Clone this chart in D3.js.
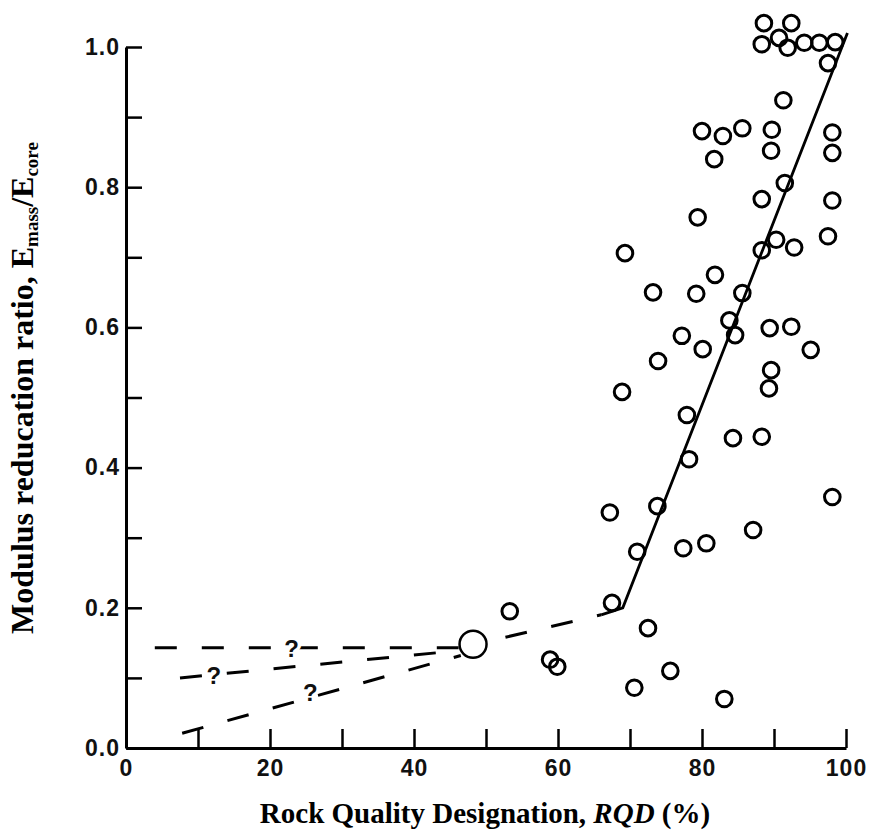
<!DOCTYPE html>
<html>
<head>
<meta charset="utf-8">
<script src="https://cdn.jsdelivr.net/npm/d3@7"></script>
<style>
  body { margin: 0; background: #fff; }
  .tick-lab { font-family: "Liberation Sans", Arial, sans-serif; font-weight: bold; font-size: 23px; }
  .title { font-family: "Liberation Serif", "Times New Roman", serif; font-weight: bold; }
</style>
</head>
<body>
<svg id="chart" width="873" height="839"></svg>
<script>
// measured data (RQD %, Emass/Ecore)
const rqd = [53.3, 58.9, 59.9,
  67.2, 67.5, 71.0, 72.5, 70.6, 73.8, 75.6, 77.4, 80.6, 83.1, 87.1, 98.1,
  78.2, 77.9, 84.3, 88.3, 89.3, 89.6, 68.9, 73.9, 77.2, 80.1, 83.8, 84.6, 89.4, 92.4, 95.1,
  73.2, 79.2, 81.8, 85.6, 69.3,
  88.3, 90.3, 92.8, 97.5, 79.4, 88.3, 98.1, 91.5,
  81.7, 89.6, 98.1, 80.0, 82.9, 85.6, 89.7, 98.1, 91.3,
  97.5, 88.3, 90.7, 91.9, 94.2, 96.3, 98.5, 88.6, 92.4];
const ratio = [0.195, 0.126, 0.116,
  0.336, 0.207, 0.280, 0.171, 0.086, 0.345, 0.110, 0.285, 0.292, 0.070, 0.311, 0.358,
  0.412, 0.475, 0.442, 0.444, 0.513, 0.539, 0.508, 0.552, 0.588, 0.569, 0.610, 0.589, 0.599, 0.601, 0.568,
  0.650, 0.648, 0.675, 0.649, 0.706,
  0.710, 0.725, 0.714, 0.730, 0.757, 0.783, 0.781, 0.806,
  0.840, 0.852, 0.849, 0.880, 0.873, 0.884, 0.882, 0.878, 0.924,
  0.977, 1.004, 1.013, 0.999, 1.006, 1.006, 1.007, 1.034, 1.034];

// the single large circle
const bigPoint = [48.2, 0.148];

// trend line (solid) and the dashed guesses
const trendLine = [[66.0, 0.190], [69.0, 0.200], [100.2, 1.020]];
const dashUpper = [[4.0, 0.143], [46.2, 0.143]];
const dashMiddle = [[7.5, 0.100], [46.3, 0.139]];
const dashLower = [[7.8, 0.021], [46.5, 0.132]];
const dashLink = [[52.7, 0.158], [66.0, 0.190]];
const qMarks = [[23.0, 0.143], [12.2, 0.104], [25.6, 0.080]];

const xTicks = d3.range(0, 101, 10);
const yTicks = d3.range(0, 1.01, 0.1);

const svg = d3.select("#chart");
const margin = { top: 47, right: 27, bottom: 91, left: 126 };
const width = +svg.attr("width") - margin.left - margin.right;
const height = +svg.attr("height") - margin.top - margin.bottom;

const x = d3.scaleLinear().domain([0, 100]).range([margin.left, margin.left + width]);
const y = d3.scaleLinear().domain([0, 1]).range([margin.top + height, margin.top]);

// axes
const xAxis = svg.append("g")
  .attr("transform", `translate(0, ${y(0)})`)
  .call(d3.axisBottom(x).tickValues(xTicks).tickSizeInner(-19).tickSizeOuter(0).tickPadding(12)
    .tickFormat((d) => (d % 20 === 0 ? d : "")));

const yAxis = svg.append("g")
  .attr("transform", `translate(${x(0)}, 0)`)
  .call(d3.axisLeft(y).tickValues(yTicks).tickSizeInner(-16).tickSizeOuter(0).tickPadding(6)
    .tickFormat((d) => (Math.round(d * 10) % 2 === 0 ? d3.format(".1f")(d) : "")));

[xAxis, yAxis].forEach((g) => {
  g.select(".domain").attr("stroke", "#000").attr("stroke-width", 3);
  g.selectAll(".tick line").attr("stroke", "#000").attr("stroke-width", 2.5);
  g.selectAll(".tick text").attr("class", "tick-lab").attr("fill", "#111")
    .attr("font-size", null).attr("font-family", null)
    .style("letter-spacing", "1px");
});

// lines
const line = d3.line().x((d) => x(d[0])).y((d) => y(d[1]));

[dashUpper, dashMiddle, dashLower, dashLink].forEach((pts) => {
  svg.append("path")
    .datum(pts)
    .attr("d", line)
    .attr("fill", "none")
    .attr("stroke", "#000")
    .attr("stroke-width", 3)
    .attr("stroke-dasharray", "22 25");
});

svg.append("path")
  .datum(trendLine)
  .attr("d", line)
  .attr("fill", "none")
  .attr("stroke", "#000")
  .attr("stroke-width", 2.8);

// question marks on dashed lines
svg.selectAll(".qmark")
  .data(qMarks)
  .enter()
  .append("text")
  .attr("x", (d) => x(d[0]))
  .attr("y", (d) => y(d[1]))
  .attr("dy", "0.38em")
  .attr("text-anchor", "middle")
  .style("font-family", "'Liberation Sans', Arial, sans-serif")
  .style("font-weight", "bold")
  .style("font-size", "24px")
  .attr("stroke", "#fff")
  .attr("stroke-width", 7)
  .attr("paint-order", "stroke")
  .attr("fill", "#111")
  .text("?");

// data circles
svg.selectAll(".pt")
  .data(rqd)
  .enter()
  .append("circle")
  .attr("cx", (d) => x(d))
  .attr("cy", (d, i) => y(ratio[i]))
  .attr("r", 7.8)
  .attr("fill", "none")
  .attr("stroke", "#000")
  .attr("stroke-width", 3);

svg.append("circle")
  .attr("cx", x(bigPoint[0]))
  .attr("cy", y(bigPoint[1]))
  .attr("r", 13.5)
  .attr("fill", "none")
  .attr("stroke", "#000")
  .attr("stroke-width", 2.5);

// axis titles
const xt = svg.append("text")
  .attr("class", "title")
  .attr("x", 485)
  .attr("y", 823)
  .attr("text-anchor", "middle")
  .attr("font-size", "29px");
xt.append("tspan").text("Rock Quality Designation, ");
xt.append("tspan").attr("font-style", "italic").text("RQD");
xt.append("tspan").text(" (%)");

const yt = svg.append("text")
  .attr("class", "title")
  .attr("transform", "translate(33, 388) rotate(-90)")
  .attr("text-anchor", "middle")
  .attr("font-size", "32px");
yt.append("tspan").text("Modulus reducation ratio, E");
yt.append("tspan").attr("font-size", "19px").attr("dy", "5").text("mass");
yt.append("tspan").attr("dy", "-5").text("/E");
yt.append("tspan").attr("font-size", "19px").attr("dy", "5").text("core");
</script>
</body>
</html>
